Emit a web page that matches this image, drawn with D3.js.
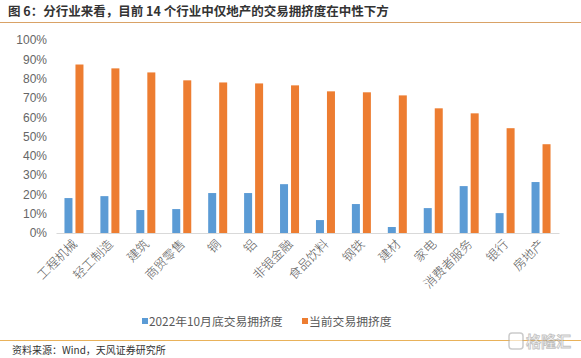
<!DOCTYPE html>
<html><head><meta charset="utf-8">
<script src="https://cdn.jsdelivr.net/npm/d3@7/dist/d3.min.js"></script>
<style>body{margin:0;background:#fff;}svg{display:block;}</style>
</head><body>
<svg id="c" width="581" height="358"></svg>
<script>
const categories = ["工程机械","轻工制造","建筑","商贸零售","铜","铝","非银金融","食品饮料","钢铁","建材","家电","消费者服务","银行","房地产"];
const oct2022 = [18.1,19.1,11.9,12.4,20.7,20.7,25.3,6.7,15.0,3.1,12.9,24.3,10.3,26.4];
const current = [87.3,85.3,83.2,79.1,78.0,77.5,76.5,73.4,72.9,71.3,64.6,62.0,54.3,46.0];
const seriesNames = ["2022年10月底交易拥挤度","当前交易拥挤度"];
const yTicks = [0,10,20,30,40,50,60,70,80,90,100];
const colors = ["#5B9BD5","#ED7D31"];
const font = "'Noto Sans CJK SC','Microsoft YaHei',sans-serif";

const svg = d3.select("#c");
const W=581,H=358;
const x = d3.scaleBand().domain(categories).range([56,559]).padding(0);
const y = d3.scaleLinear().domain([0,100]).range([233,40]);

// Title
svg.append("text").attr("x",8).attr("y",16).attr("font-family",font).attr("font-size",12.5).attr("font-weight","bold").attr("fill","#333")
  .text("图 6：分行业来看，目前 14 个行业中仅地产的交易拥挤度在中性下方");
svg.append("line").attr("x1",0).attr("x2",W).attr("y1",22.5).attr("y2",22.5).attr("stroke","#D9A266").attr("stroke-width",1.2);

// Y axis labels
const yAxis = d3.axisLeft(y).tickValues(yTicks).tickFormat(d=>d+"%").tickSize(0).tickPadding(9);
const yg = svg.append("g").attr("transform","translate(56,0)").call(yAxis);
yg.select(".domain").remove();
yg.selectAll("text").attr("font-family","'Liberation Sans',Arial,sans-serif").attr("font-size",12).attr("fill","#666");

// bars
const bw=8, gap=3;
const g = svg.append("g");
categories.forEach((c,i)=>{
  const cx = x(c)+x.bandwidth()/2;
  [oct2022[i],current[i]].forEach((v,j)=>{
    const bx = j===0 ? cx-gap/2-bw : cx+gap/2;
    g.append("rect").attr("x",bx).attr("y",y(v)).attr("width",bw).attr("height",y(0)-y(v)).attr("fill",colors[j]);
  });
});

// X axis
const xAxis = d3.axisBottom(x).tickSize(0).tickPadding(0);
const xg = svg.append("g").attr("transform","translate(0,233)").call(xAxis);
xg.select(".domain").attr("stroke","#D9D9D9").attr("stroke-width",1);
xg.selectAll("text").attr("font-family",font).attr("font-size",12.5).attr("font-weight",300).attr("fill","#595959")
  .attr("text-anchor","end").attr("dy",0)
  .attr("transform","translate(4,12) rotate(-45)");

// legend
const lg = svg.append("g").attr("font-family",font).attr("font-size",11.8).attr("fill","#595959");
const legX=[142,302];
seriesNames.forEach((n,i)=>{
  lg.append("rect").attr("x",legX[i]).attr("y",318).attr("width",6).attr("height",6).attr("fill",colors[i]);
  lg.append("text").attr("x",legX[i]+7).attr("y",326).text(n);
});

// bottom line and source
svg.append("line").attr("x1",0).attr("x2",W).attr("y1",340.5).attr("y2",340.5).attr("stroke","#E9B25A").attr("stroke-width",1.2);
svg.append("text").attr("x",12).attr("y",354).attr("font-family",font).attr("font-size",10).attr("fill","#333").text("资料来源：Wind，天风证券研究所");

// watermark
const wm = svg.append("g").attr("opacity",0.6);
wm.append("rect").attr("x",509).attr("y",333).attr("width",14).attr("height",16).attr("rx",3).attr("fill","#fff").attr("stroke","#aaa").attr("stroke-width",1.5);
wm.append("text").attr("x",526).attr("y",347).attr("font-family",font).attr("font-size",15).attr("font-weight","bold").attr("fill","#f2f2f2").attr("stroke","#999").attr("stroke-width",0.8).text("格隆汇");
</script>
</body></html>
